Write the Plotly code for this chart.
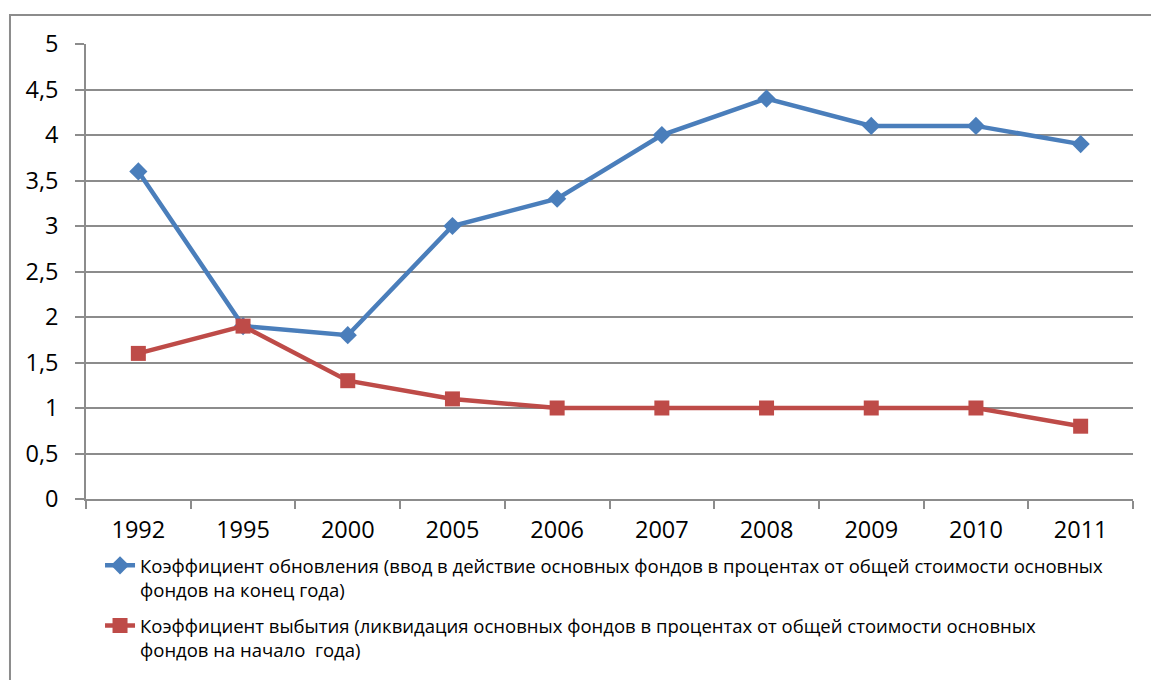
import plotly.graph_objects as go

years = ["1992", "1995", "2000", "2005", "2006", "2007", "2008", "2009", "2010", "2011"]
renewal = [3.6, 1.9, 1.8, 3.0, 3.3, 4.0, 4.4, 4.1, 4.1, 3.9]
retirement = [1.6, 1.9, 1.3, 1.1, 1.0, 1.0, 1.0, 1.0, 1.0, 0.8]

name_renewal = ("Коэффициент обновления (ввод в действие основных фондов в процентах от общей стоимости основных"
                "<br>фондов на конец года)")
name_retire = ("Коэффициент выбытия (ликвидация основных фондов в процентах от общей стоимости основных"
               "<br>фондов на начало  года)")

BLUE = "#4a7ebb"
RED = "#be4b48"
FONT = "Open Sans"

fig = go.Figure()
fig.add_trace(go.Scatter(x=years, y=renewal, mode="lines+markers", name=name_renewal,
                         legendgroup="a",
                         line=dict(color=BLUE, width=4.5),
                         marker=dict(symbol="diamond", size=14, color=BLUE)))
fig.add_trace(go.Scatter(x=years, y=retirement, mode="lines+markers", name=name_retire,
                         legendgroup="b",
                         line=dict(color=RED, width=4.5),
                         marker=dict(symbol="square", size=15, color=RED)))

fig.update_layout(
    width=1151, height=680,
    margin=dict(l=86, r=18, t=44, b=181, autoexpand=False),
    paper_bgcolor="white", plot_bgcolor="white",
    separators=", ",
    font=dict(family=FONT, color="black"),
    showlegend=True,
    legend=dict(x=0.0134, y=-0.105, xanchor="left", yanchor="top",
                font=dict(family=FONT, size=18.5, color="black"),
                traceorder="grouped",
                valign="top", tracegroupgap=9, bgcolor="rgba(0,0,0,0)"),
    xaxis=dict(type="category", showgrid=False, showline=True, linecolor="#8c8c8c", linewidth=1.5,
               ticks="outside", tickson="boundaries", ticklen=8, tickcolor="#8c8c8c", tickwidth=1.5,
               ticklabelstandoff=9, automargin=False,
               tickfont=dict(size=23.5, family=FONT), range=[-0.5, 9.5]),
    yaxis=dict(range=[0, 5], dtick=0.5, tick0=0, showgrid=True, gridcolor="#8c8c8c", gridwidth=1.5,
               showline=True, linecolor="#8c8c8c", linewidth=1.5, zeroline=False,
               ticks="outside", ticklen=9, tickcolor="#8c8c8c", tickwidth=1.5,
               ticklabelstandoff=12, automargin=False,
               tickfont=dict(size=23.5, family=FONT)),
    shapes=[dict(type="rect", xref="paper", yref="paper", x0=-0.0726, x1=1.2, y0=-1.0, y1=1.0637,
                 line=dict(color="#8c8c8c", width=2), fillcolor="rgba(0,0,0,0)", layer="below")],
)

fig.write_html("out.html")
